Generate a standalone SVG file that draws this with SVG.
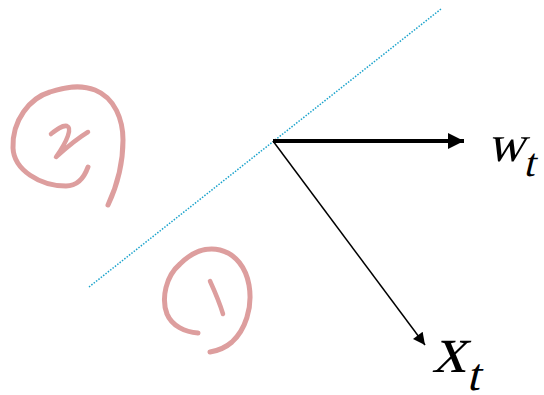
<svg xmlns="http://www.w3.org/2000/svg" width="544" height="395" viewBox="0 0 544 395">
<style>
.ink{fill:none;stroke:#dd9e9e;stroke-linecap:round;stroke-linejoin:round}
.lbl{font-family:"Liberation Serif","Times New Roman","DejaVu Serif",serif;font-style:normal;fill:#000}
</style>
<defs>
<marker id="ah" viewBox="0 0 10 10" refX="10" refY="5" markerWidth="4.5" markerHeight="4" orient="auto" markerUnits="strokeWidth"><path d="M0,0L10,5L0,10z" fill="#000"/></marker>
<marker id="ah2" viewBox="0 0 10 10" refX="10" refY="5" markerWidth="11" markerHeight="8" orient="auto" markerUnits="strokeWidth"><path d="M0,0L10,5L0,10z" fill="#000"/></marker>
</defs>
<rect width="544" height="395" fill="#fff"/>
<g id="connectors">
<line x1="89" y1="287" x2="441" y2="9" stroke="#1ba3cc" stroke-width="1.5" stroke-dasharray="1.5,1.5"/>
<line x1="273" y1="141" x2="464" y2="141" stroke="#000" stroke-width="4" marker-end="url(#ah)"/>
<line x1="273" y1="141" x2="425" y2="345" stroke="#000" stroke-width="1.5" marker-end="url(#ah2)"/>
</g>
<g id="w_label" transform="translate(0,161) skewX(-14)"><text class="lbl" x="487" y="0" font-size="52">w</text><text class="lbl" x="527" y="15" font-size="40">t</text></g>
<g id="x_label" transform="translate(0,372) skewX(-14)"><text class="lbl" x="432" y="0" font-size="68">x</text><text class="lbl" x="471" y="18" font-size="46">t</text></g>
<g id="region2">
<path class="ink" stroke-width="5" d="M88,167 C84,178 78,186 66,186 C40,186 14,170 13,148 C12,120 30,98 50,92 C65,87 80,84 95,90 C115,98 123,120 123,140 C123,165 116,188 108,205"/>
<path class="ink" stroke-width="4.5" d="M51,134 C56,130 62,125 67,126 C72,128 68,140 56,157 C66,148 78,138 88,132"/>
</g>
<g id="region1">
<path class="ink" stroke-width="5" d="M198,333 C185,332 172,326 167,314 C161,298 166,276 180,264 C192,252 206,247 220,250 C236,254 246,268 249,285 C253,308 245,330 232,342 C224,349 216,351 210,352"/>
<path class="ink" stroke-width="4.5" d="M210,281 C215,292 220,304 223,314"/>
</g>
</svg>
